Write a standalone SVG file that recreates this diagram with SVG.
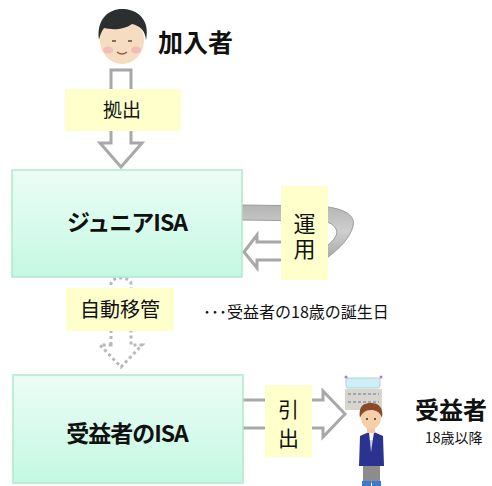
<svg xmlns="http://www.w3.org/2000/svg" width="492" height="486" viewBox="0 0 492 486">
  <defs>
    <linearGradient id="boxFill" x1="0" y1="0" x2="0" y2="1">
      <stop offset="0" stop-color="#ecfdf6"/>
      <stop offset="1" stop-color="#c4f8e2"/>
    </linearGradient>
    <linearGradient id="bandFill" x1="0" y1="0" x2="0" y2="1">
      <stop offset="0" stop-color="#b4b4b4"/>
      <stop offset="0.5" stop-color="#cfcfcf"/>
      <stop offset="1" stop-color="#a8a8a8"/>
    </linearGradient>
    <style>
      .box { fill: url(#boxFill); stroke: #b0e8d0; stroke-width: 1.5; }
      .tag { fill: #ffffcc; }
      .jp { font-family: "Noto Sans CJK JP", "Liberation Sans", sans-serif; fill: #111; }
      .bold { font-weight: 700; }
      .vert { writing-mode: vertical-rl; }
      .hollow { fill: #ffffff; stroke: #a8a8a8; stroke-width: 3; stroke-linejoin: miter; }
      .dotted { fill: #ffffff; stroke: #b8b8b8; stroke-width: 3; stroke-dasharray: 3 3; }
    </style>
  </defs>

  <!-- connectors -->
  <g id="connectors">
    <!-- contribution arrow -->
    <path class="hollow" d="M111,70 L131,70 L131,143 L142,143 L121,167 L100,143 L111,143 Z"/>
    <!-- investment loop -->
    <path d="M242,205 L320,206 C342,208 356,214 353,226 C350,238 340,248 327,258 L327,246 C334,240 339,234 336,229 C333,223 326,221 318,221 L242,220 Z" fill="url(#bandFill)" stroke="#9c9c9c" stroke-width="1"/>
    <path class="hollow" d="M300,242 L257,242 L257,235 L244,252 L257,268 L257,260 L300,260"/>
    <!-- automatic transfer -->
    <path class="dotted" d="M111,345 L111,284 C111,276 131,276 131,284 L131,345 L142,345 L121,367 L100,345 Z"/>
    <!-- withdrawal arrow -->
    <path class="hollow" d="M243,400 L323,400 L323,391 L345,414 L323,437 L323,428 L243,428"/>
  </g>

  <!-- subscriber -->
  <g id="subscriber">
    <ellipse cx="122" cy="40" rx="22" ry="24" fill="#f6dcc0"/>
    <path d="M99,40 C96,18 110,8 124,9 C140,10 150,22 146,40 C145,30 140,26 132,24 C124,30 112,30 104,28 C101,32 100,36 99,40 Z" fill="#2b2f30"/>
    <ellipse cx="108" cy="50" rx="5" ry="3.5" fill="#f2b4b4" opacity="0.8"/>
    <ellipse cx="136" cy="50" rx="5" ry="3.5" fill="#f2b4b4" opacity="0.8"/>
    <path d="M112,41 h4 M128,41 h4" stroke="#5a4a40" stroke-width="1.6"/>
    <path d="M117,52 q5,4 10,0" stroke="#a05a50" stroke-width="1.4" fill="none"/>
    <text class="jp bold" x="158" y="52" font-size="25">加入者</text>
  </g>

  <!-- contribution label -->
  <g id="label-contribution">
    <rect class="tag" x="65" y="89" width="116" height="42"/>
    <text class="jp" x="122" y="117" font-size="19" text-anchor="middle">拠出</text>
  </g>

  <!-- junior ISA account -->
  <g id="junior-isa">
    <rect class="box" x="12" y="170" width="230" height="107"/>
    <text class="jp bold" x="127" y="231" font-size="23" text-anchor="middle" letter-spacing="-1">ジュニアISA</text>
  </g>

  <!-- investment label -->
  <g id="label-investment">
    <rect class="tag" x="281" y="186" width="47" height="94"/>
    <text class="jp vert" x="304.5" y="213" font-size="22" letter-spacing="3">運用</text>
  </g>

  <!-- transfer label and note -->
  <g id="label-transfer">
    <rect class="tag" x="66" y="288" width="108" height="43"/>
    <text class="jp" x="120" y="317" font-size="20" text-anchor="middle">自動移管</text>
    <text class="jp" x="203" y="318" font-size="16">･･･受益者の18歳の誕生日</text>
  </g>

  <!-- beneficiary ISA account -->
  <g id="beneficiary-isa">
    <rect class="box" x="13" y="375" width="230" height="108"/>
    <text class="jp bold" x="127" y="442" font-size="23" text-anchor="middle" letter-spacing="-1">受益者のISA</text>
  </g>

  <!-- withdrawal label -->
  <g id="label-withdrawal">
    <rect class="tag" x="265" y="385" width="47" height="72"/>
    <text class="jp vert" x="288.5" y="399" font-size="21" letter-spacing="8">引出</text>
  </g>

  <!-- beneficiary -->
  <g id="beneficiary">
    <!-- school building -->
    <rect x="346" y="378" width="34" height="10" rx="2" fill="#cfeef6" stroke="#a8d2e0"/>
    <rect x="345" y="389" width="37" height="21" fill="#d8d6cc"/>
    <path d="M348,394 h31 M348,402 h31" stroke="#9aa6b8" stroke-width="2" stroke-dasharray="3 2"/>
    <circle cx="346" cy="377" r="1.5" fill="#c070c0"/>
    <circle cx="381" cy="377" r="1.5" fill="#c070c0"/>
    <!-- student -->
    <rect x="364" y="440" width="15" height="10" fill="#c9d2e0"/>
    <path d="M360,436 L369,432 L371,452 L374,432 L383,436 L384,466 L359,466 Z" fill="#2c3290"/>
    <rect x="363" y="466" width="17" height="17" fill="#8c8c8c"/>
    <rect x="362" y="481" width="9" height="5" fill="#3a7ad0"/>
    <rect x="372" y="481" width="9" height="5" fill="#3a7ad0"/>
    <rect x="367" y="427" width="8" height="6" fill="#f2c9a4"/>
    <ellipse cx="371" cy="418" rx="10" ry="11" fill="#f4cfa8"/>
    <path d="M360,418 C358,404 366,403 371,403 C378,403 384,407 382,418 C380,412 376,410 371,410 C365,410 362,413 360,418 Z" fill="#8a4a28"/>
    <circle cx="367" cy="419" r="1" fill="#333"/>
    <circle cx="375" cy="419" r="1" fill="#333"/>
    <text class="jp bold" x="415" y="419" font-size="24">受益者</text>
    <text class="jp" x="425" y="443" font-size="14">18歳以降</text>
  </g>
</svg>
